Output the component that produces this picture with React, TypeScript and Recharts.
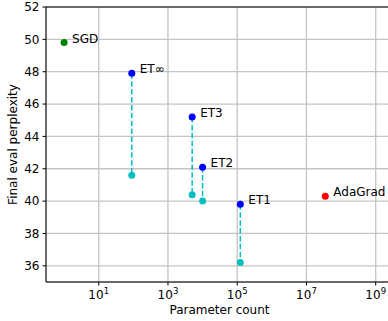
import { ScatterChart, Scatter, XAxis, YAxis, CartesianGrid, ReferenceLine } from 'recharts';

const models = ['SGD', 'ET∞', 'ET3', 'ET2', 'ET1', 'AdaGrad'];
const paramCounts = [1, 90, 5000, 10000, 123000, 35000000];
const finalPerplexity = [49.8, 47.9, 45.2, 42.1, 39.8, 40.3];
// second point for the ET models (null = none)
const tunedPerplexity = [null, 41.6, 40.4, 40.0, 36.2, null];
const pointColors = ['#008000', '#0000ff', '#0000ff', '#0000ff', '#0000ff', '#ff0000'];
const tunedColor = '#00bfbf';

const xTicks = [10, 1e3, 1e5, 1e7, 1e9];
const yTicks = [36, 38, 40, 42, 44, 46, 48, 50, 52];

const FONT = 'DejaVu Sans';

function PointShape(props: any) {
  const { cx, cy, payload } = props;
  if (cx == null || cy == null) return null;
  return (
    <g>
      <circle cx={cx} cy={cy} r={3.5} fill={payload.color} />
      {payload.label && (
        <text x={cx + 8} y={cy} fontFamily={FONT} fontSize={12} fill="#000">
          {payload.label}
        </text>
      )}
    </g>
  );
}

function XTick(props: any) {
  const { x, y, payload } = props;
  const exp = Math.round(Math.log10(payload.value));
  return (
    <text x={x} y={y} dy={11.8} textAnchor="middle" fontFamily={FONT} fontSize={12} fill="#000">
      10
      <tspan fontSize={8.5} dy={-5}>
        {exp}
      </tspan>
    </text>
  );
}

export default function App() {
  const series = models.map((m, i) => {
    const pts: any[] = [{ x: paramCounts[i], y: finalPerplexity[i], color: pointColors[i], label: m }];
    if (tunedPerplexity[i] != null) {
      pts.push({ x: paramCounts[i], y: tunedPerplexity[i], color: tunedColor, label: '' });
    }
    return { name: m, pts, line: tunedPerplexity[i] != null };
  });

  return (
    <div style={{ position: 'absolute', left: 0, top: 0, width: 388, height: 321, overflow: 'hidden', background: '#fff' }}>
      <ScatterChart width={400} height={321} margin={{ top: 7, right: 7, bottom: 0, left: 0 }}>
        <CartesianGrid stroke="#c4c4c4" strokeWidth={1.3} />
        <XAxis
          type="number"
          dataKey="x"
          scale="log"
          domain={[0.3, 3.16e9]}
          allowDataOverflow
          ticks={xTicks}
          interval={0}
          tick={<XTick />}
          height={39}
          tickSize={3.5}
          tickMargin={2}
          axisLine={{ stroke: '#000', strokeWidth: 1 }}
          tickLine={{ stroke: '#000' }}
          label={{
            content: (p: any) => {
              const vb = p.viewBox;
              return (
                <text x={vb.x + vb.width / 2} y={vb.y + 32.3} textAnchor="middle" fontFamily={FONT} fontSize={12} fill="#000">
                  Parameter count
                </text>
              );
            },
          }}
        />
        <YAxis
          type="number"
          dataKey="y"
          domain={[35, 52]}
          ticks={yTicks}
          interval={0}
          width={46}
          tickSize={3.5}
          tickMargin={3}
          tick={{ fontFamily: FONT, fontSize: 12, fill: '#000' }}
          axisLine={{ stroke: '#000', strokeWidth: 1 }}
          tickLine={{ stroke: '#000' }}
          label={{
            content: (p: any) => {
              const vb = p.viewBox;
              const cy = vb.y + vb.height / 2;
              return (
                <text
                  x={16.5}
                  y={cy}
                  transform={`rotate(-90 16.5 ${cy})`}
                  textAnchor="middle"
                  fontFamily={FONT}
                  fontSize={12}
                  fill="#000"
                >
                  Final eval perplexity
                </text>
              );
            },
          }}
        />
        <ReferenceLine y={52} stroke="#000" strokeWidth={1} />
        {series.map((s) => (
          <Scatter
            key={s.name}
            name={s.name}
            data={s.pts}
            isAnimationActive={false}
            line={s.line ? { stroke: tunedColor, strokeWidth: 1.5, strokeDasharray: '5.5 2.4' } : false}
            shape={<PointShape />}
          />
        ))}
      </ScatterChart>
    </div>
  );
}
